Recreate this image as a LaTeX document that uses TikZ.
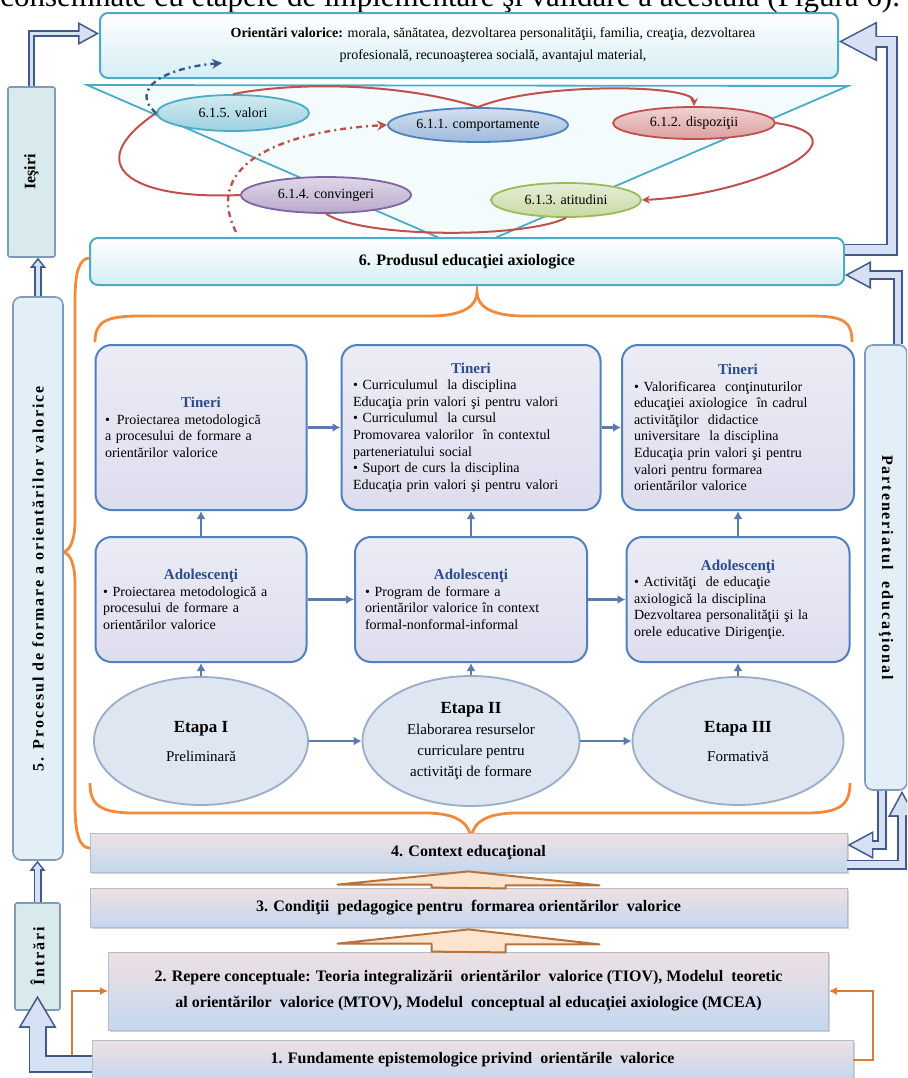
\documentclass[tikz,border=0pt]{standalone}
\usepackage{fontspec}
\setmainfont{Liberation Serif}
\newfontfamily\spacedfont[LetterSpace=12]{Liberation Serif}
\usepackage{tikz}
\usetikzlibrary{arrows.meta, shapes.geometric, shadows}

\definecolor{tealline}{HTML}{4BACC6}
\definecolor{tealfill}{HTML}{D4EEF4}
\definecolor{redline}{HTML}{C0504D}
\definecolor{blueline}{HTML}{4F81BD}
\definecolor{violetline}{HTML}{8064A2}
\definecolor{greenline}{HTML}{9BBB59}
\definecolor{steel}{HTML}{5A7BAB}
\definecolor{lavtop}{HTML}{ECECF6}
\definecolor{lavbot}{HTML}{DDDDEE}
\definecolor{titleblue}{HTML}{2B4C8C}
\definecolor{ellfill}{HTML}{DDE6F1}
\definecolor{ellline}{HTML}{9AACC8}
\definecolor{boxtop}{HTML}{EFE0E2}
\definecolor{boxbot}{HTML}{C4D7EF}
\definecolor{boxline}{HTML}{B4BDCB}
\definecolor{braceorange}{HTML}{F08A3C}
\definecolor{brownline}{HTML}{B8733C}
\definecolor{peach}{HTML}{FCE4CE}
\definecolor{arrowline}{HTML}{41598A}
\definecolor{arrowfill}{HTML}{D6E1F3}
\definecolor{sidefill}{HTML}{E3EFF7}
\definecolor{sideline}{HTML}{7E9BB8}
\definecolor{exitfill}{HTML}{D9EAEC}

\newcommand{\grouptitle}[1]{\makebox[\linewidth]{\textcolor{titleblue}{\bfseries\fontsize{7.5}{8.3}\selectfont #1}}\\}

\tikzset{
topbox/.style={draw=tealline, line width=1pt, rounded corners=4pt, top color=white, bottom color=tealfill, align=center, font=\fontsize{7}{11}\selectfont},
prodtri/.style={draw=tealline, line width=0.9pt, fill=tealfill!25},
valnode/.style={ellipse, draw=#1, line width=0.9pt, top color=#1!25!white, bottom color=#1!55!white, inner sep=0pt, font=\fontsize{7}{8}\selectfont},
loopline/.style={draw=redline, line width=1pt},
dashline/.style={line width=1.2pt, dash pattern=on 3pt off 2pt on 1pt off 2pt, -{Stealth[length=5pt,width=5pt]}},
brace/.style={draw=braceorange, line width=1.4pt},
stagebox/.style={draw=blueline, line width=1pt, rounded corners=8pt, top color=lavtop, bottom color=lavbot, align=left, font=\fontsize{7}{8.3}\selectfont, inner sep=2pt},
etapa/.style={ellipse, draw=ellline, line width=0.9pt, fill=ellfill, align=center, inner sep=0pt, font=\fontsize{7.5}{10.5}\selectfont},
levelbox/.style={draw=boxline, line width=0.4pt, top color=boxtop, bottom color=boxbot, drop shadow={shadow xshift=0.8pt, shadow yshift=-0.8pt, opacity=0.35}, align=center, font=\bfseries\fontsize{8}{10}\selectfont},
sidebox/.style={draw=sideline, line width=0.8pt, fill=sidefill, rounded corners=4pt, inner sep=0pt, font=\spacedfont\bfseries\fontsize{8}{9}\selectfont},
flow/.style={draw=steel, line width=1.1pt, -{Latex[length=4pt,width=4.5pt]}},
feedarrow/.style={draw=braceorange!90!black, line width=1pt, -{Latex[length=4pt,width=4pt]}},
uparrow/.style={draw=brownline, line width=1pt, fill=peach, line join=round},
% hollow arrows: light inner line over a dark outer line
outarrow/.style={draw=arrowfill, line width=4.4pt, shorten >=1.7pt, -{Triangle[length=16.5pt,width=17.4pt,line width=0pt]}, preaction={draw=arrowline, line width=6pt, shorten >=0pt, -{Triangle[length=19pt,width=20pt,line width=0pt]}}},
sidearrow/.style={draw=arrowfill, line width=3.4pt, shorten >=1.7pt, -{Triangle[length=10.5pt,width=11.3pt,line width=0pt]}, preaction={draw=arrowline, line width=5pt, shorten >=0pt, -{Triangle[length=13pt,width=14pt,line width=0pt]}}},
exitarrow/.style={draw=arrowfill, line width=1.9pt, shorten >=1.7pt, -{Triangle[length=8pt,width=8.8pt,line width=0pt]}, preaction={draw=arrowline, line width=3.5pt, shorten >=0pt, -{Triangle[length=10.5pt,width=11.5pt,line width=0pt]}}},
stemarrow/.style={draw=arrowfill, line width=2.4pt, shorten >=1.3pt, -{Triangle[length=2.9pt,width=4.7pt,line width=0pt]}, preaction={draw=arrowline, line width=4pt, shorten >=0pt, -{Triangle[length=5pt,width=8pt,line width=0pt]}}},
inarrow/.style={draw=arrowfill, line width=7.4pt, shorten >=1.6pt, -{Triangle[length=13.6pt,width=16.2pt,line width=0pt]}, preaction={draw=arrowline, line width=9pt, shorten >=0pt, -{Triangle[length=16pt,width=19pt,line width=0pt]}}},
}

\begin{document}
\begin{tikzpicture}[x=0.5pt, y=-0.5pt]
\useasboundingbox (0,0) rectangle (907,1078);
\clip (0,0) rectangle (907,1078);

% page line cut off above the figure
\node[anchor=base west, inner sep=0pt, font=\fontsize{15.5}{17}\selectfont] (pageline) at (0,6) {consemnate cu etapele de implementare şi validare a acestuia (Figura 6).};

% triangle behind the product
\draw[prodtri] (87,85) -- (848,86) -- (467,250) -- cycle;

% orange braces
\draw[brace] (95,342) .. controls (95,322) and (105,316) .. (140,316) -- (430,316) .. controls (465,316) and (477,305) .. (477,292) .. controls (477,305) and (489,316) .. (524,316) -- (810,316) .. controls (845,316) and (852,322) .. (852,342);
\draw[brace] (90,783) .. controls (90,805) and (100,813) .. (135,813) -- (425,813) .. controls (460,813) and (471,825) .. (471,842) .. controls (471,825) and (482,813) .. (517,813) -- (805,813) .. controls (840,813) and (850,805) .. (850,783);
\draw[brace] (90,258) .. controls (80,258) and (75,270) .. (75,300) -- (75,520) .. controls (75,540) and (70,552) .. (62,552) .. controls (70,552) and (75,564) .. (75,584) -- (75,805) .. controls (75,835) and (80,848) .. (90,848);

% value orientations
\node[topbox, minimum width=369pt, minimum height=32.5pt] (orient) at (469,45.5) {\hspace*{24pt}\textbf{Orientări valorice:} morala, sănătatea, dezvoltarea personalităţii, familia, creaţia, dezvoltarea\\ \hspace*{24pt}profesională, recunoaşterea socială, avantajul material,};

% 6.1 components
\node[valnode=tealline, minimum width=76pt, minimum height=18pt] (val) at (233,113) {6.1.5. valori};
\node[valnode=blueline, minimum width=90pt, minimum height=17pt] (comp) at (478,125) {6.1.1. comportamente};
\node[valnode=redline, minimum width=81pt, minimum height=16pt] (disp) at (694,123) {6.1.2. dispoziţii};
\node[valnode=violetline, minimum width=85pt, minimum height=18pt] (conv) at (326,195) {6.1.4. convingeri};
\node[valnode=greenline, minimum width=75pt, minimum height=17pt] (atit) at (566,200) {6.1.3. atitudini};

\draw[loopline] (conv.west) .. controls +(-110,5) and +(-77,52) .. (val.west);
\draw[loopline] (val.north) .. controls +(60,-12) and +(-80,-25) .. (comp.north);
\draw[loopline, -{Stealth[length=4pt,width=4pt]}] (comp.north) .. controls +(60,-25) and +(0,-22) .. (disp.north);
\draw[loopline, -{Stealth[length=4pt,width=4pt]}] (disp.east) .. controls +(100,15) and +(110,-5) .. (atit.east);
\draw[loopline] (atit.south) .. controls +(-40,20) and +(40,25) .. (conv.south);

\coordinate (redtail) at (236,232);
\coordinate (bluetip) at (222,63);
\draw[dashline, draw=redline] (redtail) .. controls +(-36,-72) and +(-95,5) .. (comp.west);
\draw[dashline, draw=blueline!70!black] (val.west) .. controls +(-27,-23) and +(-60,5) .. (bluetip);

% product
\node[topbox, minimum width=377pt, minimum height=23.5pt, font=\bfseries\fontsize{8}{10}\selectfont] (prod) at (467,261.5) {6. Produsul educaţiei axiologice};

% Tineri
\node[stagebox, minimum width=105.5pt, minimum height=82.5pt, text width=96pt] (T1) at (201,427.5) {\grouptitle{Tineri}•\enspace Proiectarea metodologică\\ a procesului de formare a\\ orientărilor valorice};
\node[stagebox, minimum width=129.5pt, minimum height=82.5pt, text width=118pt] (T2) at (471,427.5) {\grouptitle{Tineri}• Curriculumul\ \ la disciplina\\ Educaţia prin valori şi pentru valori\\ • Curriculumul\ \ la cursul\\ Promovarea valorilor\ \ în contextul\\ parteneriatului social\\ • Suport de curs la disciplina\\ Educaţia prin valori şi pentru valori};
\node[stagebox, minimum width=116pt, minimum height=82.5pt, text width=104pt] (T3) at (738,427.5) {\grouptitle{Tineri}• Valorificarea\ \ conţinuturilor\\ educaţiei axiologice\ \ în cadrul\\ activităţilor\ \ didactice\\ universitare\ \ la disciplina\\ Educaţia prin valori şi pentru\\ valori pentru formarea\\ orientărilor valorice};

% Adolescenti
\node[stagebox, minimum width=105.5pt, minimum height=62.5pt, text width=98pt] (A1) at (201,599.5) {\grouptitle{Adolescenţi}• Proiectarea metodologică a\\ procesului de formare a\\ orientărilor valorice};
\node[stagebox, minimum width=116pt, minimum height=62.5pt, text width=106pt] (A2) at (471,599.5) {\grouptitle{Adolescenţi}• Program de formare a\\ orientărilor valorice în context\\ formal-nonformal-informal};
\node[stagebox, minimum width=111.5pt, minimum height=62.5pt, text width=104pt] (A3) at (738,599.5) {\grouptitle{Adolescenţi}• Activităţi\ \ de educaţie\\ axiologică la disciplina\\ Dezvoltarea personalităţii\ şi la\\ orele educative Dirigenţie.};

% stages
\node[etapa, minimum width=107pt, minimum height=64pt] (E1) at (201,741) {{\bfseries\fontsize{8.5}{10.5}\selectfont Etapa I}\\[4pt] Preliminară};
\node[etapa, minimum width=108.5pt, minimum height=65pt] (E2) at (471,741) {{\bfseries\fontsize{8.5}{10.5}\selectfont Etapa II}\\ Elaborarea resurselor\\ curriculare pentru\\ activităţi de formare};
\node[etapa, minimum width=105.5pt, minimum height=64pt] (E3) at (738,741) {{\bfseries\fontsize{8.5}{10.5}\selectfont Etapa III}\\[4pt] Formativă};

\draw[flow] (T1) -- (T2);
\draw[flow] (T2) -- (T3);
\draw[flow] (A1) -- (A2);
\draw[flow] (A2) -- (A3);
\draw[flow] (E1) -- (E2);
\draw[flow] (E2) -- (E3);
\foreach \col in {1,2,3}{
  \draw[flow] (E\col) -- (A\col);
  \draw[flow] (A\col) -- (T\col);
}

% levels 1-4
\node[levelbox, minimum width=378.5pt, minimum height=19.5pt] (ctx) at (468.5,852.5) {4. Context educaţional};
\node[levelbox, minimum width=378.5pt, minimum height=19.5pt] (cond) at (468.5,907.5) {3. Condiţii\ \ pedagogice pentru\ \ formarea orientărilor\ \ valorice};
\node[levelbox, minimum width=360pt, minimum height=39pt, font=\bfseries\fontsize{8}{13}\selectfont] (rep) at (468.5,991) {2. Repere conceptuale: Teoria integralizării\ \ orientărilor\ \ valorice (TIOV), Modelul\ \ teoretic\\ al orientărilor\ \ valorice (MTOV), Modelul\ \ conceptual al educaţiei axiologice (MCEA)};
\node[levelbox, minimum width=380.5pt, minimum height=20pt] (fund) at (472.5,1060) {1. Fundamente epistemologice privind\ \ orientările\ \ valorice};

\draw[uparrow] (cond.north) ++(-37,0) -- ++(0,-3) -- ++(-94,0) -- ([yshift=0.5pt]ctx.south) -- ++(131,14) -- ++(-94,0) -- ++(0,3) -- cycle;
\draw[uparrow] (rep.north) ++(-37,0) -- ++(0,-8) -- ++(-94,0) -- ([yshift=-1pt]cond.south) -- ++(131,15) -- ++(-94,0) -- ++(0,8) -- cycle;

\draw[feedarrow] ([xshift=-10pt,yshift=2pt]fund.west) |- (rep.west);
\draw[feedarrow] (fund.east) -- ++(20,0) |- (rep.east);

% side columns
\node[sidebox, fill=exitfill, rounded corners=1pt, minimum width=23.5pt, minimum height=85pt, font=\bfseries\fontsize{8}{9}\selectfont] (iesiri) at (31.5,172) {\rotatebox{90}{Ieşiri}};
\node[sidebox, minimum width=25pt, minimum height=281.5pt] (proc) at (38,578.5) {\rotatebox{90}{5. Procesul de formare a orientărilor valorice}};
\node[sidebox, fill=exitfill, rounded corners=1pt, minimum width=22.5pt, minimum height=53.5pt] (intrari) at (37.5,956.5) {\rotatebox{90}{Întrări}};
\node[sidebox, minimum width=21pt, minimum height=222.5pt] (part) at (886,567.5) {\rotatebox{-90}{Parteneriatul\ \ educaţional}};

\draw[exitarrow] (iesiri.north) |- ([yshift=6pt]orient.west);
\draw[stemarrow] (proc.north) -- (proc.north |- iesiri.south);
\draw[stemarrow] (intrari.north) -- (intrari.north |- proc.south);
\draw[inarrow] ([yshift=-2pt]fund.west) -| ([yshift=7.5pt]intrari.south);

\draw[outarrow] ([yshift=6pt]prod.east) -- ++(47,0) |- ([yshift=2pt]orient.east);
\draw[sidearrow] ([xshift=6pt]part.north) |- ([yshift=-6.75pt]prod.east);
\draw[sidearrow] ([xshift=-2pt]part.south) |- ([yshift=3.75pt]ctx.east);
\draw[sidearrow] ([yshift=-6pt]ctx.east) -| ([xshift=8pt]part.south);
\end{tikzpicture}
\end{document}
